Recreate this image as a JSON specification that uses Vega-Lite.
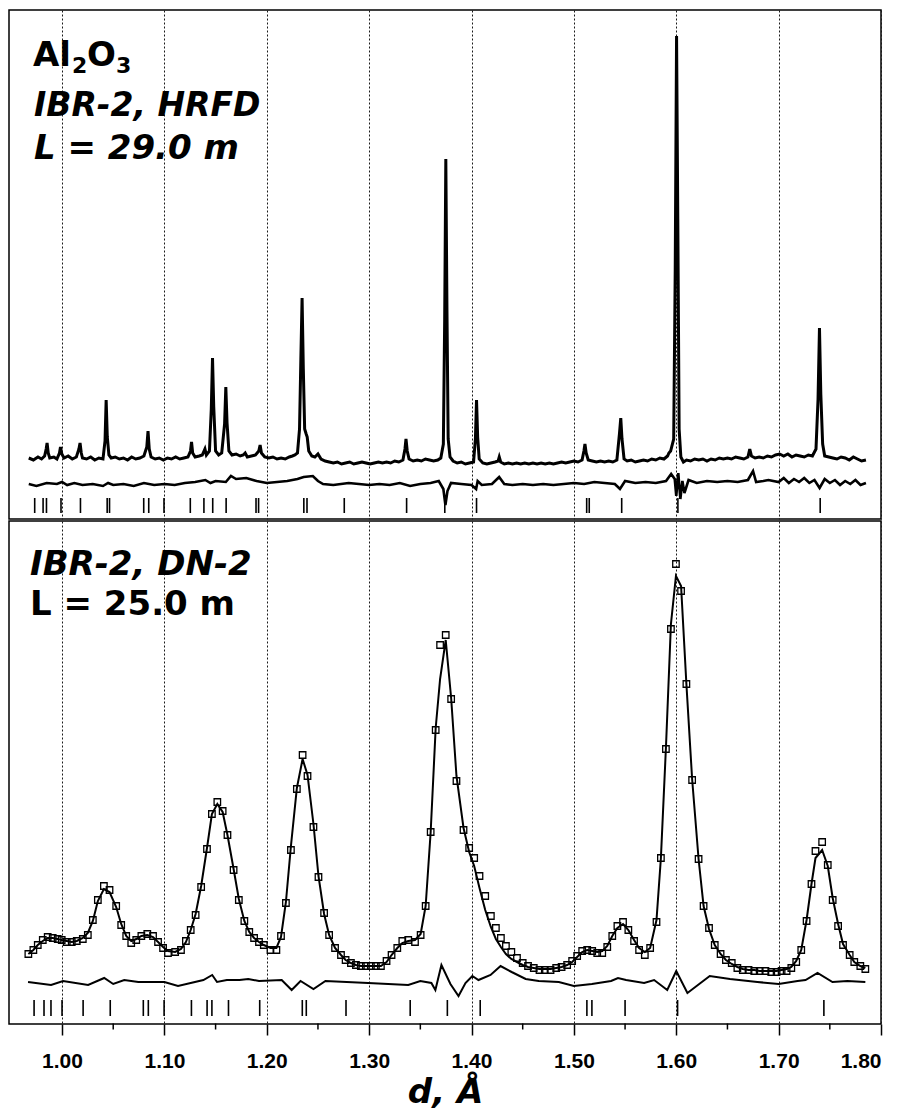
{
  "$schema": "https://vega.github.io/schema/vega-lite/v6.json",
  "background": "white",
  "padding": {"left": 8, "top": 9, "right": 4, "bottom": 0},
  "config": {
    "view": {"stroke": "black", "strokeWidth": 1.5},
    "axis": {"gridColor": "#1a1a1a", "gridDash": [2, 2], "gridWidth": 1, "gridOpacity": 1}
  },
  "datasets": {
    "hrfd_obs": [
      {"d":0.9675,"i":610},{"d":0.9720,"i":590},{"d":0.9765,"i":620},{"d":0.9800,"i":600},{"d":0.9830,"i":630},{"d":0.9845,"i":700},{"d":0.9854,"i":760},{"d":0.9865,"i":660},{"d":0.9880,"i":610},{"d":0.9920,"i":620},{"d":0.9950,"i":600},{"d":0.9975,"i":660},{"d":0.9985,"i":720},{"d":0.9998,"i":650},{"d":1.0020,"i":610},{"d":1.0060,"i":630},{"d":1.0100,"i":600},{"d":1.0140,"i":620},{"d":1.0165,"i":700},{"d":1.0176,"i":760},{"d":1.0188,"i":660},{"d":1.0200,"i":610},{"d":1.0240,"i":600},{"d":1.0280,"i":620},{"d":1.0320,"i":590},{"d":1.0360,"i":610},{"d":1.0400,"i":600},{"d":1.0420,"i":780},{"d":1.0431,"i":1190},{"d":1.0442,"i":820},{"d":1.0458,"i":640},{"d":1.0480,"i":610},{"d":1.0520,"i":620},{"d":1.0560,"i":600},{"d":1.0600,"i":610},{"d":1.0640,"i":590},{"d":1.0680,"i":620},{"d":1.0720,"i":600},{"d":1.0760,"i":610},{"d":1.0800,"i":630},{"d":1.0828,"i":720},{"d":1.0840,"i":880},{"d":1.0852,"i":700},{"d":1.0870,"i":620},{"d":1.0910,"i":600},{"d":1.0950,"i":610},{"d":1.0990,"i":590},{"d":1.1030,"i":610},{"d":1.1070,"i":600},{"d":1.1110,"i":620},{"d":1.1150,"i":600},{"d":1.1190,"i":610},{"d":1.1230,"i":620},{"d":1.1255,"i":680},{"d":1.1265,"i":770},{"d":1.1276,"i":660},{"d":1.1300,"i":620},{"d":1.1340,"i":630},{"d":1.1370,"i":640},{"d":1.1396,"i":700},{"d":1.1410,"i":640},{"d":1.1440,"i":680},{"d":1.1458,"i":1100},{"d":1.1470,"i":1610},{"d":1.1482,"i":1120},{"d":1.1500,"i":680},{"d":1.1530,"i":640},{"d":1.1560,"i":660},{"d":1.1588,"i":950},{"d":1.1600,"i":1320},{"d":1.1612,"i":960},{"d":1.1630,"i":680},{"d":1.1660,"i":640},{"d":1.1700,"i":650},{"d":1.1740,"i":630},{"d":1.1770,"i":640},{"d":1.1789,"i":660},{"d":1.1810,"i":620},{"d":1.1850,"i":630},{"d":1.1890,"i":640},{"d":1.1922,"i":680},{"d":1.1935,"i":740},{"d":1.1948,"i":660},{"d":1.1980,"i":620},{"d":1.2020,"i":610},{"d":1.2060,"i":620},{"d":1.2100,"i":600},{"d":1.2140,"i":610},{"d":1.2180,"i":600},{"d":1.2220,"i":620},{"d":1.2250,"i":630},{"d":1.2275,"i":640},{"d":1.2300,"i":660},{"d":1.2320,"i":900},{"d":1.2333,"i":1600},{"d":1.2345,"i":2210},{"d":1.2357,"i":1500},{"d":1.2370,"i":900},{"d":1.2385,"i":850},{"d":1.2395,"i":820},{"d":1.2410,"i":680},{"d":1.2440,"i":630},{"d":1.2470,"i":620},{"d":1.2500,"i":650},{"d":1.2530,"i":600},{"d":1.2570,"i":580},{"d":1.2610,"i":570},{"d":1.2650,"i":560},{"d":1.2690,"i":570},{"d":1.2730,"i":550},{"d":1.2770,"i":560},{"d":1.2810,"i":570},{"d":1.2850,"i":550},{"d":1.2890,"i":560},{"d":1.2930,"i":570},{"d":1.2970,"i":560},{"d":1.3010,"i":550},{"d":1.3050,"i":560},{"d":1.3090,"i":570},{"d":1.3130,"i":560},{"d":1.3170,"i":570},{"d":1.3210,"i":560},{"d":1.3250,"i":580},{"d":1.3290,"i":570},{"d":1.3330,"i":590},{"d":1.3350,"i":700},{"d":1.3360,"i":800},{"d":1.3372,"i":680},{"d":1.3390,"i":600},{"d":1.3430,"i":580},{"d":1.3470,"i":590},{"d":1.3510,"i":580},{"d":1.3550,"i":600},{"d":1.3590,"i":590},{"d":1.3630,"i":580},{"d":1.3670,"i":590},{"d":1.3700,"i":610},{"d":1.3725,"i":750},{"d":1.3738,"i":2000},{"d":1.3749,"i":3600},{"d":1.3760,"i":2100},{"d":1.3772,"i":800},{"d":1.3790,"i":620},{"d":1.3820,"i":580},{"d":1.3860,"i":560},{"d":1.3900,"i":570},{"d":1.3940,"i":550},{"d":1.3980,"i":560},{"d":1.4020,"i":570},{"d":1.4038,"i":800},{"d":1.4049,"i":1190},{"d":1.4060,"i":820},{"d":1.4075,"i":600},{"d":1.4110,"i":560},{"d":1.4150,"i":550},{"d":1.4190,"i":560},{"d":1.4230,"i":570},{"d":1.4260,"i":580},{"d":1.4271,"i":620},{"d":1.4285,"i":570},{"d":1.4320,"i":550},{"d":1.4360,"i":560},{"d":1.4400,"i":550},{"d":1.4440,"i":560},{"d":1.4480,"i":550},{"d":1.4520,"i":560},{"d":1.4560,"i":550},{"d":1.4600,"i":560},{"d":1.4640,"i":550},{"d":1.4680,"i":560},{"d":1.4720,"i":550},{"d":1.4760,"i":560},{"d":1.4800,"i":550},{"d":1.4840,"i":560},{"d":1.4880,"i":570},{"d":1.4920,"i":560},{"d":1.4960,"i":570},{"d":1.5000,"i":580},{"d":1.5040,"i":570},{"d":1.5080,"i":590},{"d":1.5098,"i":680},{"d":1.5108,"i":750},{"d":1.5120,"i":660},{"d":1.5140,"i":590},{"d":1.5180,"i":580},{"d":1.5220,"i":570},{"d":1.5260,"i":580},{"d":1.5300,"i":570},{"d":1.5340,"i":580},{"d":1.5380,"i":570},{"d":1.5420,"i":590},{"d":1.5445,"i":850},{"d":1.5458,"i":1010},{"d":1.5470,"i":800},{"d":1.5490,"i":600},{"d":1.5520,"i":580},{"d":1.5560,"i":590},{"d":1.5600,"i":570},{"d":1.5640,"i":580},{"d":1.5680,"i":590},{"d":1.5720,"i":580},{"d":1.5760,"i":600},{"d":1.5800,"i":590},{"d":1.5840,"i":610},{"d":1.5880,"i":600},{"d":1.5915,"i":630},{"d":1.5928,"i":660},{"d":1.5945,"i":680},{"d":1.5975,"i":800},{"d":1.5990,"i":2500},{"d":1.6003,"i":4830},{"d":1.6015,"i":3000},{"d":1.6028,"i":900},{"d":1.6045,"i":620},{"d":1.6070,"i":570},{"d":1.6100,"i":590},{"d":1.6140,"i":580},{"d":1.6180,"i":600},{"d":1.6220,"i":590},{"d":1.6260,"i":600},{"d":1.6300,"i":580},{"d":1.6340,"i":600},{"d":1.6380,"i":590},{"d":1.6420,"i":610},{"d":1.6460,"i":600},{"d":1.6500,"i":610},{"d":1.6540,"i":600},{"d":1.6580,"i":620},{"d":1.6620,"i":610},{"d":1.6660,"i":600},{"d":1.6700,"i":620},{"d":1.6718,"i":700},{"d":1.6735,"i":630},{"d":1.6770,"i":610},{"d":1.6810,"i":620},{"d":1.6850,"i":610},{"d":1.6890,"i":630},{"d":1.6930,"i":620},{"d":1.6970,"i":640},{"d":1.7010,"i":650},{"d":1.7050,"i":630},{"d":1.7090,"i":650},{"d":1.7130,"i":620},{"d":1.7170,"i":640},{"d":1.7210,"i":630},{"d":1.7250,"i":620},{"d":1.7290,"i":640},{"d":1.7330,"i":630},{"d":1.7365,"i":700},{"d":1.7385,"i":1200},{"d":1.7399,"i":1910},{"d":1.7412,"i":1250},{"d":1.7430,"i":750},{"d":1.7450,"i":630},{"d":1.7490,"i":620},{"d":1.7530,"i":610},{"d":1.7570,"i":600},{"d":1.7610,"i":620},{"d":1.7650,"i":610},{"d":1.7690,"i":590},{"d":1.7730,"i":620},{"d":1.7770,"i":600},{"d":1.7810,"i":580},{"d":1.7853,"i":590}
    ],
    "hrfd_diff": [
      {"d":0.9675,"i":350},{"d":0.975,"i":330},{"d":0.985,"i":360},{"d":0.995,"i":350},{"d":1.000,"i":370},{"d":1.005,"i":340},{"d":1.012,"i":360},{"d":1.020,"i":340},{"d":1.030,"i":350},{"d":1.040,"i":330},{"d":1.045,"i":360},{"d":1.050,"i":340},{"d":1.060,"i":350},{"d":1.070,"i":330},{"d":1.080,"i":360},{"d":1.090,"i":340},{"d":1.100,"i":350},{"d":1.110,"i":340},{"d":1.120,"i":360},{"d":1.130,"i":370},{"d":1.140,"i":390},{"d":1.145,"i":360},{"d":1.150,"i":380},{"d":1.160,"i":370},{"d":1.165,"i":430},{"d":1.170,"i":400},{"d":1.180,"i":410},{"d":1.190,"i":380},{"d":1.200,"i":360},{"d":1.210,"i":370},{"d":1.220,"i":380},{"d":1.230,"i":400},{"d":1.236,"i":420},{"d":1.245,"i":430},{"d":1.250,"i":380},{"d":1.255,"i":350},{"d":1.265,"i":340},{"d":1.280,"i":360},{"d":1.290,"i":350},{"d":1.300,"i":340},{"d":1.310,"i":350},{"d":1.320,"i":340},{"d":1.330,"i":360},{"d":1.340,"i":330},{"d":1.350,"i":350},{"d":1.360,"i":360},{"d":1.368,"i":380},{"d":1.3725,"i":300},{"d":1.3745,"i":140},{"d":1.3765,"i":280},{"d":1.380,"i":360},{"d":1.390,"i":350},{"d":1.400,"i":340},{"d":1.4045,"i":300},{"d":1.406,"i":380},{"d":1.410,"i":340},{"d":1.420,"i":350},{"d":1.427,"i":420},{"d":1.432,"i":350},{"d":1.440,"i":340},{"d":1.450,"i":350},{"d":1.460,"i":340},{"d":1.470,"i":350},{"d":1.480,"i":340},{"d":1.490,"i":350},{"d":1.500,"i":360},{"d":1.510,"i":350},{"d":1.520,"i":370},{"d":1.530,"i":360},{"d":1.540,"i":350},{"d":1.545,"i":300},{"d":1.550,"i":380},{"d":1.560,"i":360},{"d":1.570,"i":370},{"d":1.580,"i":360},{"d":1.590,"i":380},{"d":1.595,"i":450},{"d":1.5985,"i":400},{"d":1.600,"i":230},{"d":1.602,"i":460},{"d":1.604,"i":200},{"d":1.606,"i":380},{"d":1.608,"i":260},{"d":1.612,"i":390},{"d":1.620,"i":360},{"d":1.630,"i":380},{"d":1.640,"i":370},{"d":1.650,"i":380},{"d":1.660,"i":370},{"d":1.670,"i":390},{"d":1.675,"i":480},{"d":1.678,"i":370},{"d":1.685,"i":380},{"d":1.690,"i":390},{"d":1.700,"i":370},{"d":1.705,"i":410},{"d":1.710,"i":360},{"d":1.715,"i":400},{"d":1.720,"i":370},{"d":1.725,"i":410},{"d":1.730,"i":360},{"d":1.735,"i":390},{"d":1.740,"i":310},{"d":1.745,"i":400},{"d":1.750,"i":360},{"d":1.755,"i":390},{"d":1.760,"i":340},{"d":1.765,"i":380},{"d":1.770,"i":350},{"d":1.775,"i":390},{"d":1.780,"i":340},{"d":1.7853,"i":360}
    ],
    "hrfd_hkl": [
      {"d":0.9733},{"d":0.9815},{"d":0.9848},{"d":0.999},{"d":1.018},{"d":1.0441},{"d":1.0464},{"d":1.0798},{"d":1.0847},{"d":1.0996},{"d":1.1253},{"d":1.1386},{"d":1.1472},{"d":1.1603},{"d":1.1895},{"d":1.192},{"d":1.2362},{"d":1.2393},{"d":1.2757},{"d":1.3366},{"d":1.3739},{"d":1.4049},{"d":1.5125},{"d":1.515},{"d":1.5467},{"d":1.6016},{"d":1.7406}
    ],
    "dn2": [
      {"d":0.9671,"obs":700,"calc":700},{"d":0.9720,"obs":740,"calc":740},{"d":0.9763,"obs":790,"calc":790},{"d":0.9812,"obs":840,"calc":830},{"d":0.9860,"obs":870,"calc":860},{"d":0.9909,"obs":860,"calc":860},{"d":0.9958,"obs":850,"calc":850},{"d":0.9997,"obs":840,"calc":840},{"d":1.0046,"obs":820,"calc":830},{"d":1.0095,"obs":820,"calc":820},{"d":1.0144,"obs":830,"calc":830},{"d":1.0203,"obs":850,"calc":860},{"d":1.0252,"obs":890,"calc":910},{"d":1.0301,"obs":1040,"calc":1030},{"d":1.0350,"obs":1240,"calc":1230},{"d":1.0409,"obs":1380,"calc":1350},{"d":1.0464,"obs":1340,"calc":1320},{"d":1.0529,"obs":1180,"calc":1170},{"d":1.0578,"obs":990,"calc":1000},{"d":1.0627,"obs":880,"calc":880},{"d":1.0676,"obs":810,"calc":830},{"d":1.0725,"obs":840,"calc":850},{"d":1.0775,"obs":880,"calc":880},{"d":1.0833,"obs":900,"calc":890},{"d":1.0889,"obs":880,"calc":870},{"d":1.0938,"obs":820,"calc":820},{"d":1.0987,"obs":760,"calc":770},{"d":1.1035,"obs":710,"calc":730},{"d":1.1105,"obs":720,"calc":720},{"d":1.1162,"obs":740,"calc":750},{"d":1.1210,"obs":830,"calc":820},{"d":1.1257,"obs":940,"calc":940},{"d":1.1305,"obs":1090,"calc":1100},{"d":1.1359,"obs":1370,"calc":1380},{"d":1.1416,"obs":1750,"calc":1760},{"d":1.1464,"obs":2100,"calc":2100},{"d":1.1517,"obs":2220,"calc":2200},{"d":1.1569,"obs":2130,"calc":2120},{"d":1.1616,"obs":1890,"calc":1890},{"d":1.1676,"obs":1540,"calc":1550},{"d":1.1727,"obs":1240,"calc":1250},{"d":1.1781,"obs":1030,"calc":1030},{"d":1.1829,"obs":920,"calc":920},{"d":1.1876,"obs":860,"calc":860},{"d":1.1924,"obs":820,"calc":820},{"d":1.1971,"obs":790,"calc":790},{"d":1.2036,"obs":740,"calc":760},{"d":1.2094,"obs":740,"calc":760},{"d":1.2139,"obs":880,"calc":870},{"d":1.2187,"obs":1210,"calc":1220},{"d":1.2236,"obs":1740,"calc":1780},{"d":1.2294,"obs":2350,"calc":2360},{"d":1.2350,"obs":2690,"calc":2650},{"d":1.2398,"obs":2480,"calc":2490},{"d":1.2456,"obs":1970,"calc":2000},{"d":1.2505,"obs":1470,"calc":1480},{"d":1.2560,"obs":1110,"calc":1100},{"d":1.2609,"obs":890,"calc":890},{"d":1.2667,"obs":760,"calc":760},{"d":1.2725,"obs":690,"calc":690},{"d":1.2770,"obs":640,"calc":640},{"d":1.2822,"obs":610,"calc":610},{"d":1.2871,"obs":590,"calc":590},{"d":1.2919,"obs":580,"calc":580},{"d":1.2968,"obs":580,"calc":580},{"d":1.3017,"obs":580,"calc":580},{"d":1.3066,"obs":580,"calc":580},{"d":1.3115,"obs":580,"calc":580},{"d":1.3170,"obs":630,"calc":620},{"d":1.3219,"obs":690,"calc":690},{"d":1.3275,"obs":760,"calc":760},{"d":1.3324,"obs":830,"calc":810},{"d":1.3382,"obs":840,"calc":830},{"d":1.3448,"obs":820,"calc":840},{"d":1.3503,"obs":890,"calc":900},{"d":1.3552,"obs":1180,"calc":1180},{"d":1.3601,"obs":1920,"calc":1920},{"d":1.3650,"obs":2940,"calc":2960},{"d":1.3693,"obs":3790,"calc":3450},{"d":1.3748,"obs":3890,"calc":3840},{"d":1.3801,"obs":3250,"calc":3260},{"d":1.3853,"obs":2430,"calc":2480},{"d":1.3922,"obs":1940,"calc":1960},{"d":1.3977,"obs":1760,"calc":1720},{"d":1.4026,"obs":1660,"calc":1580},{"d":1.4078,"obs":1480,"calc":1360},{"d":1.4134,"obs":1280,"calc":1140},{"d":1.4189,"obs":1080,"calc":970},{"d":1.4238,"obs":960,"calc":850},{"d":1.4287,"obs":860,"calc":770},{"d":1.4336,"obs":780,"calc":700},{"d":1.4389,"obs":720,"calc":650},{"d":1.4444,"obs":660,"calc":620},{"d":1.4500,"obs":610,"calc":590},{"d":1.4552,"obs":580,"calc":570},{"d":1.4608,"obs":560,"calc":560},{"d":1.4664,"obs":540,"calc":550},{"d":1.4716,"obs":540,"calc":550},{"d":1.4772,"obs":540,"calc":550},{"d":1.4827,"obs":560,"calc":560},{"d":1.4880,"obs":570,"calc":570},{"d":1.4934,"obs":590,"calc":590},{"d":1.4983,"obs":630,"calc":620},{"d":1.5032,"obs":680,"calc":670},{"d":1.5081,"obs":730,"calc":720},{"d":1.5130,"obs":740,"calc":740},{"d":1.5179,"obs":730,"calc":730},{"d":1.5228,"obs":710,"calc":720},{"d":1.5277,"obs":710,"calc":730},{"d":1.5326,"obs":770,"calc":780},{"d":1.5375,"obs":880,"calc":880},{"d":1.5425,"obs":980,"calc":960},{"d":1.5480,"obs":1020,"calc":1000},{"d":1.5532,"obs":940,"calc":940},{"d":1.5588,"obs":830,"calc":840},{"d":1.5637,"obs":740,"calc":760},{"d":1.5693,"obs":690,"calc":720},{"d":1.5745,"obs":760,"calc":760},{"d":1.5807,"obs":1020,"calc":1040},{"d":1.5850,"obs":1660,"calc":1660},{"d":1.5899,"obs":2750,"calc":2760},{"d":1.5948,"obs":3950,"calc":4000},{"d":1.5997,"obs":4600,"calc":4480},{"d":1.6047,"obs":4330,"calc":4380},{"d":1.6099,"obs":3400,"calc":3400},{"d":1.6155,"obs":2440,"calc":2450},{"d":1.6218,"obs":1650,"calc":1650},{"d":1.6267,"obs":1180,"calc":1180},{"d":1.6320,"obs":960,"calc":950},{"d":1.6376,"obs":790,"calc":790},{"d":1.6433,"obs":700,"calc":700},{"d":1.6485,"obs":640,"calc":640},{"d":1.6542,"obs":610,"calc":600},{"d":1.6597,"obs":560,"calc":570},{"d":1.6650,"obs":540,"calc":550},{"d":1.6706,"obs":540,"calc":540},{"d":1.6762,"obs":530,"calc":540},{"d":1.6815,"obs":530,"calc":530},{"d":1.6871,"obs":530,"calc":530},{"d":1.6928,"obs":520,"calc":530},{"d":1.6980,"obs":520,"calc":530},{"d":1.7029,"obs":530,"calc":540},{"d":1.7078,"obs":530,"calc":550},{"d":1.7124,"obs":560,"calc":570},{"d":1.7172,"obs":620,"calc":630},{"d":1.7221,"obs":740,"calc":740},{"d":1.7273,"obs":1030,"calc":1040},{"d":1.7321,"obs":1400,"calc":1400},{"d":1.7360,"obs":1730,"calc":1660},{"d":1.7425,"obs":1820,"calc":1740},{"d":1.7480,"obs":1590,"calc":1580},{"d":1.7528,"obs":1240,"calc":1260},{"d":1.7581,"obs":980,"calc":1000},{"d":1.7629,"obs":790,"calc":800},{"d":1.7694,"obs":690,"calc":690},{"d":1.7739,"obs":620,"calc":620},{"d":1.7798,"obs":580,"calc":580},{"d":1.7847,"obs":550,"calc":560}
    ],
    "dn2_diff": [
      {"d":0.9668,"i":420},{"d":0.9893,"i":390},{"d":1.0010,"i":430},{"d":1.0255,"i":390},{"d":1.0412,"i":460},{"d":1.0500,"i":400},{"d":1.0608,"i":440},{"d":1.0745,"i":420},{"d":1.1000,"i":420},{"d":1.1133,"i":380},{"d":1.1381,"i":440},{"d":1.1467,"i":490},{"d":1.1514,"i":420},{"d":1.1610,"i":440},{"d":1.1733,"i":440},{"d":1.1819,"i":450},{"d":1.1924,"i":430},{"d":1.2146,"i":440},{"d":1.2243,"i":340},{"d":1.2330,"i":430},{"d":1.2456,"i":350},{"d":1.2573,"i":430},{"d":1.2990,"i":410},{"d":1.3382,"i":390},{"d":1.3500,"i":430},{"d":1.3608,"i":410},{"d":1.3647,"i":340},{"d":1.3706,"i":590},{"d":1.3794,"i":400},{"d":1.3873,"i":280},{"d":1.3941,"i":410},{"d":1.4008,"i":480},{"d":1.4068,"i":440},{"d":1.4186,"i":490},{"d":1.4284,"i":580},{"d":1.4392,"i":520},{"d":1.4529,"i":450},{"d":1.4657,"i":430},{"d":1.4853,"i":420},{"d":1.5000,"i":380},{"d":1.5176,"i":400},{"d":1.5363,"i":430},{"d":1.5431,"i":460},{"d":1.5510,"i":440},{"d":1.5686,"i":410},{"d":1.5784,"i":440},{"d":1.5912,"i":340},{"d":1.6000,"i":530},{"d":1.6109,"i":310},{"d":1.6327,"i":480},{"d":1.6525,"i":450},{"d":1.6792,"i":420},{"d":1.7000,"i":400},{"d":1.7185,"i":430},{"d":1.7263,"i":440},{"d":1.7380,"i":510},{"d":1.7526,"i":420},{"d":1.7672,"i":430},{"d":1.7847,"i":420}
    ],
    "dn2_hkl": [
      {"d":0.9727},{"d":0.9824},{"d":0.9892},{"d":1.0},{"d":1.0206},{"d":1.0471},{"d":1.0794},{"d":1.0843},{"d":1.0997},{"d":1.1264},{"d":1.1417},{"d":1.1464},{"d":1.1626},{"d":1.1931},{"d":1.2347},{"d":1.2386},{"d":1.2774},{"d":1.3401},{"d":1.3764},{"d":1.4085},{"d":1.5127},{"d":1.5176},{"d":1.55},{"d":1.6013},{"d":1.7442}
    ],
    "minor": [
      {"d":1.05},{"d":1.15},{"d":1.25},{"d":1.35},{"d":1.45},{"d":1.55},{"d":1.65},{"d":1.75}
    ]
  },
  "spacing": 0,
  "resolve": {"scale": {"x": "independent", "y": "independent"}},
  "vconcat": [
    {
      "width": 872,
      "height": 509,
      "layer": [
        {
          "data": {"name": "hrfd_obs"},
          "mark": {"type": "line", "color": "black", "strokeWidth": 3, "clip": true},
          "encoding": {
            "x": {"field": "d", "type": "quantitative", "scale": {"domain": [0.9482, 1.8], "nice": false, "zero": false},
                  "axis": {"values": [1.0, 1.1, 1.2, 1.3, 1.4, 1.5, 1.6, 1.7, 1.8], "labels": false, "ticks": false, "domain": false, "title": null, "grid": true}},
            "y": {"field": "i", "type": "quantitative", "scale": {"domain": [0, 5090], "nice": false, "zero": false}, "axis": null}
          }
        },
        {
          "data": {"name": "hrfd_diff"},
          "mark": {"type": "line", "color": "black", "strokeWidth": 2.6},
          "encoding": {
            "x": {"field": "d", "type": "quantitative"},
            "y": {"field": "i", "type": "quantitative"}
          }
        },
        {
          "data": {"name": "hrfd_hkl"},
          "mark": {"type": "rule", "color": "black", "strokeWidth": 1.6},
          "encoding": {
            "x": {"field": "d", "type": "quantitative"},
            "y": {"datum": 60},
            "y2": {"datum": 210}
          }
        },
        {
          "data": {"values": [{}]},
          "mark": {"type": "text", "font": "DejaVu Sans", "fontWeight": "bold", "fontSize": 34, "align": "left", "baseline": "alphabetic", "color": "black"},
          "encoding": {"x": {"datum": 0.9716}, "y": {"datum": 4530}, "text": {"value": "Al"}}
        },
        {
          "data": {"values": [{}]},
          "mark": {"type": "text", "font": "DejaVu Sans", "fontWeight": "bold", "fontSize": 22, "align": "left", "baseline": "alphabetic", "color": "black"},
          "encoding": {"x": {"datum": 1.0097}, "y": {"datum": 4460}, "text": {"value": "2"}}
        },
        {
          "data": {"values": [{}]},
          "mark": {"type": "text", "font": "DejaVu Sans", "fontWeight": "bold", "fontSize": 34, "align": "left", "baseline": "alphabetic", "color": "black"},
          "encoding": {"x": {"datum": 1.0244}, "y": {"datum": 4530}, "text": {"value": "O"}}
        },
        {
          "data": {"values": [{}]},
          "mark": {"type": "text", "font": "DejaVu Sans", "fontWeight": "bold", "fontSize": 22, "align": "left", "baseline": "alphabetic", "color": "black"},
          "encoding": {"x": {"datum": 1.0527}, "y": {"datum": 4460}, "text": {"value": "3"}}
        },
        {
          "data": {"values": [{}]},
          "mark": {"type": "text", "font": "DejaVu Sans", "fontWeight": "bold", "fontStyle": "italic", "fontSize": 33, "align": "left", "baseline": "alphabetic", "color": "black"},
          "encoding": {"x": {"datum": 0.9726}, "y": {"datum": 4030}, "text": {"value": "IBR-2, HRFD"}}
        },
        {
          "data": {"values": [{}]},
          "mark": {"type": "text", "font": "DejaVu Sans", "fontWeight": "bold", "fontStyle": "italic", "fontSize": 34, "align": "left", "baseline": "alphabetic", "color": "black"},
          "encoding": {"x": {"datum": 0.9726}, "y": {"datum": 3600}, "text": {"value": "L = 29.0 m"}}
        }
      ]
    },
    {
      "width": 872,
      "height": 503,
      "layer": [
        {
          "data": {"name": "dn2"},
          "mark": {"type": "line", "color": "black", "strokeWidth": 2},
          "encoding": {
            "x": {"field": "d", "type": "quantitative", "scale": {"domain": [0.9482, 1.8], "nice": false, "zero": false},
                  "axis": {"values": [1.0, 1.1, 1.2, 1.3, 1.4, 1.5, 1.6, 1.7, 1.8], "format": ".2f", "grid": true, "domain": false,
                           "ticks": true, "tickSize": 11, "tickWidth": 1.5, "tickColor": "black",
                           "labelFont": "Liberation Sans", "labelFontWeight": "bold", "labelFontSize": 21, "labelColor": "black", "labelPadding": 15,
                           "title": "d, Å", "titleFont": "DejaVu Sans", "titleFontSize": 34, "titleFontWeight": "bold", "titleFontStyle": "italic", "titleColor": "black", "titlePadding": 4}},
            "y": {"field": "calc", "type": "quantitative", "scale": {"domain": [0, 5030], "nice": false, "zero": false}, "axis": null}
          }
        },
        {
          "data": {"name": "dn2"},
          "mark": {"type": "point", "shape": "square", "filled": false, "color": "black", "size": 42, "strokeWidth": 1.3, "opacity": 1},
          "encoding": {
            "x": {"field": "d", "type": "quantitative"},
            "y": {"field": "obs", "type": "quantitative"}
          }
        },
        {
          "data": {"name": "dn2_diff"},
          "mark": {"type": "line", "color": "black", "strokeWidth": 2},
          "encoding": {
            "x": {"field": "d", "type": "quantitative"},
            "y": {"field": "i", "type": "quantitative"}
          }
        },
        {
          "data": {"name": "dn2_hkl"},
          "mark": {"type": "rule", "color": "black", "strokeWidth": 1.6},
          "encoding": {
            "x": {"field": "d", "type": "quantitative"},
            "y": {"datum": 80},
            "y2": {"datum": 240}
          }
        },
        {
          "data": {"name": "minor"},
          "mark": {"type": "rule", "color": "black", "strokeWidth": 1.5},
          "encoding": {
            "x": {"field": "d", "type": "quantitative"},
            "y": {"datum": -55},
            "y2": {"datum": 5}
          }
        },
        {
          "data": {"values": [{}]},
          "mark": {"type": "text", "font": "DejaVu Sans", "fontWeight": "bold", "fontStyle": "italic", "fontSize": 34, "align": "left", "baseline": "alphabetic", "color": "black"},
          "encoding": {"x": {"datum": 0.9687}, "y": {"datum": 4490}, "text": {"value": "IBR-2, DN-2"}}
        },
        {
          "data": {"values": [{}]},
          "mark": {"type": "text", "font": "DejaVu Sans", "fontWeight": "bold", "fontSize": 34, "align": "left", "baseline": "alphabetic", "color": "black"},
          "encoding": {"x": {"datum": 0.9687}, "y": {"datum": 4090}, "text": {"value": "L = 25.0 m"}}
        }
      ]
    }
  ]
}
